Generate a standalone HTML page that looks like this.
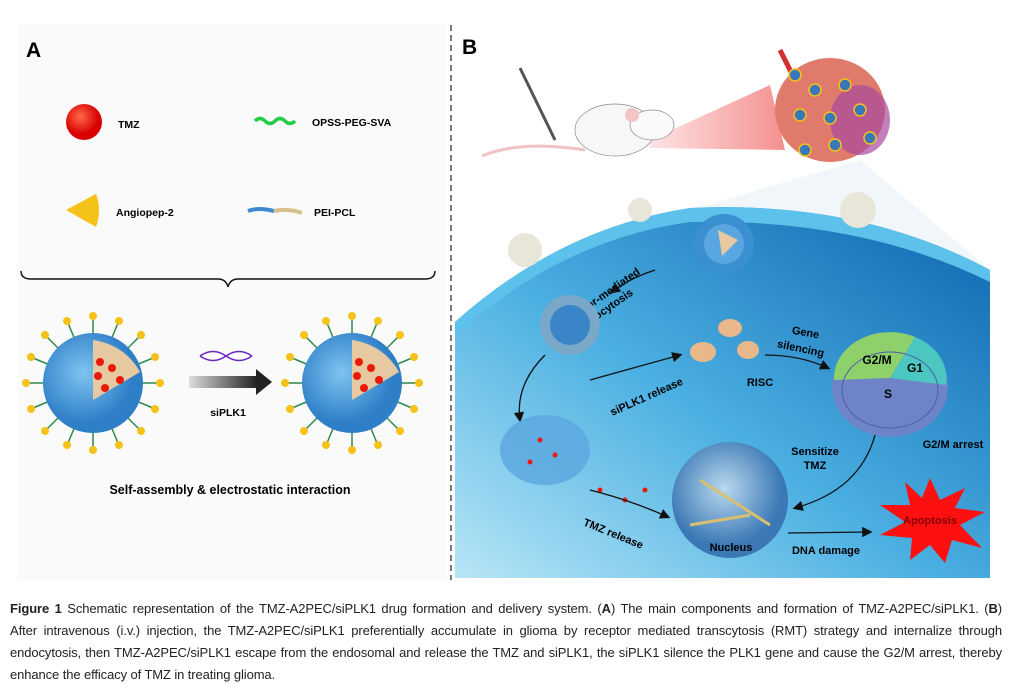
<!DOCTYPE html>
<html><head><meta charset="utf-8"><style>
body{margin:0;background:#fff;width:1013px;height:694px;overflow:hidden;font-family:"Liberation Sans",sans-serif}
.cap{position:absolute;left:10px;top:598px;width:992px;font-size:13px;line-height:22px;color:#222;letter-spacing:-0.1px}
.cap div{text-align:justify;text-align-last:justify;white-space:nowrap}
.cap div.l{text-align-last:left}
</style></head><body>
<svg width="1013" height="694" style="position:absolute;left:0;top:0" font-family="Liberation Sans,sans-serif">
<defs>
<radialGradient id="red" cx="40%" cy="35%"><stop offset="0" stop-color="#ff6a4a"/><stop offset="1" stop-color="#d80000"/></radialGradient>
<radialGradient id="sph" cx="40%" cy="40%"><stop offset="0" stop-color="#7ec4f0"/><stop offset="1" stop-color="#2f7fc8"/></radialGradient>
<linearGradient id="cell" x1="0" y1="1" x2="1" y2="0"><stop offset="0" stop-color="#b8e6f6"/><stop offset="0.45" stop-color="#4bb0e2"/><stop offset="1" stop-color="#0d63ad"/></linearGradient>
<linearGradient id="arr" x1="0" x2="1"><stop offset="0" stop-color="#ddd"/><stop offset="1" stop-color="#222"/></linearGradient>
<linearGradient id="beam" x1="0" x2="1"><stop offset="0" stop-color="#ffd8d8"/><stop offset="1" stop-color="#f06060"/></linearGradient>
<radialGradient id="nuc" cx="45%" cy="40%"><stop offset="0" stop-color="#b9d9ee"/><stop offset="1" stop-color="#3b78b5"/></radialGradient>
<marker id="ah" markerWidth="8" markerHeight="8" refX="6" refY="4" orient="auto"><path d="M0,0 L8,4 L0,8z" fill="#111"/></marker>
</defs>
<rect x="18" y="25" width="428" height="555" fill="#fafafa"/>
<line x1="451" y1="25" x2="451" y2="580" stroke="#333" stroke-width="1.3" stroke-dasharray="6,4"/>
<text x="26" y="57" font-size="21" font-weight="bold">A</text>
<circle cx="84" cy="122" r="18" fill="url(#red)"/>
<text x="118" y="128" font-size="10.5" font-weight="bold">TMZ</text>
<path d="M255,121 q5,-5 10,0 t10,0 t10,0 t10,0" stroke="#22cc44" stroke-width="3.5" fill="none"/>
<text x="312" y="126" font-size="10.5" font-weight="bold">OPSS-PEG-SVA</text>
<path d="M96,194 L66,210 L96,227 Q102,210 96,194z" fill="#f5c21a"/>
<text x="116" y="216" font-size="10.5" font-weight="bold">Angiopep-2</text>
<path d="M248,211 q10,-4 26,0" stroke="#3d8ad4" stroke-width="4" fill="none"/><path d="M274,211 q14,-3 28,2" stroke="#d8c08a" stroke-width="4" fill="none"/>
<text x="314" y="216" font-size="10.5" font-weight="bold">PEI-PCL</text>
<path d="M21,271 q0,8 10,8 L218,279 q8,0 10,8 q2,-8 10,-8 L425,279 q10,0 10,-8" stroke="#111" stroke-width="1.4" fill="none"/>
<g id="np">
<g stroke="#2a8a4a" stroke-width="1.5">
<line x1="93" y1="383" x2="93" y2="318"/><line x1="93" y1="383" x2="93" y2="448"/><line x1="93" y1="383" x2="28" y2="383"/><line x1="93" y1="383" x2="158" y2="383"/>
<line x1="93" y1="383" x2="47" y2="337"/><line x1="93" y1="383" x2="139" y2="429"/><line x1="93" y1="383" x2="139" y2="337"/><line x1="93" y1="383" x2="47" y2="429"/>
<line x1="93" y1="383" x2="68" y2="323"/><line x1="93" y1="383" x2="118" y2="443"/><line x1="93" y1="383" x2="153" y2="358"/><line x1="93" y1="383" x2="33" y2="408"/>
<line x1="93" y1="383" x2="118" y2="323"/><line x1="93" y1="383" x2="68" y2="443"/><line x1="93" y1="383" x2="153" y2="408"/><line x1="93" y1="383" x2="33" y2="358"/>
</g>
<g fill="#f5c21a">
<circle cx="93" cy="316" r="4"/><circle cx="93" cy="450" r="4"/><circle cx="26" cy="383" r="4"/><circle cx="160" cy="383" r="4"/>
<circle cx="45" cy="335" r="4"/><circle cx="141" cy="431" r="4"/><circle cx="141" cy="335" r="4"/><circle cx="45" cy="431" r="4"/>
<circle cx="67" cy="321" r="4"/><circle cx="119" cy="445" r="4"/><circle cx="155" cy="357" r="4"/><circle cx="31" cy="409" r="4"/>
<circle cx="119" cy="321" r="4"/><circle cx="67" cy="445" r="4"/><circle cx="155" cy="409" r="4"/><circle cx="31" cy="357" r="4"/>
</g>
<circle cx="93" cy="383" r="50" fill="url(#sph)"/>
<path d="M93,340 Q125,345 140,372 L93,400 z" fill="#e6c9a0"/>
<g fill="#e81a0a"><circle cx="100" cy="362" r="4"/><circle cx="112" cy="368" r="4"/><circle cx="98" cy="376" r="4"/><circle cx="120" cy="380" r="4"/><circle cx="105" cy="388" r="4"/></g>
</g>
<use href="#np" x="259"/>
<path d="M200,356 q13,-9 26,0 t26,0 M200,356 q13,9 26,0 t26,0" stroke="#6a2ac0" stroke-width="1.5" fill="none"/>
<rect x="189" y="376" width="68" height="12" fill="url(#arr)"/><path d="M256,369 L272,382 L256,395z" fill="#222"/>
<text x="228" y="416" font-size="10.5" font-weight="bold" text-anchor="middle">siPLK1</text>
<text x="230" y="494" font-size="12.5" font-weight="bold" text-anchor="middle">Self-assembly &amp; electrostatic interaction</text>

<text x="462" y="54" font-size="21" font-weight="bold">B</text>
<path d="M650,140 L770,85 L785,150 L650,148z" fill="url(#beam)" opacity="0.7"/>
<path d="M585,150 Q520,140 482,156" stroke="#f0c4c4" stroke-width="3" fill="none"/>
<ellipse cx="615" cy="130" rx="40" ry="26" fill="#f7f7f7" stroke="#888" stroke-width="0.7"/>
<ellipse cx="652" cy="125" rx="22" ry="15" fill="#fafafa" stroke="#888" stroke-width="0.7"/>
<circle cx="632" cy="115" r="7" fill="#f2c4c4"/>
<line x1="520" y1="68" x2="555" y2="140" stroke="#555" stroke-width="3"/>
<path d="M780,50 L800,90" stroke="#d03030" stroke-width="5"/>
<ellipse cx="830" cy="110" rx="55" ry="52" fill="#e07a6a"/>
<ellipse cx="860" cy="120" rx="30" ry="35" fill="#a84aa0" opacity="0.7"/>
<g fill="#3a78b8" stroke="#f5c21a" stroke-width="1.5"><circle cx="795" cy="75" r="6"/><circle cx="815" cy="90" r="6"/><circle cx="845" cy="85" r="6"/><circle cx="800" cy="115" r="6"/><circle cx="830" cy="118" r="6"/><circle cx="860" cy="110" r="6"/><circle cx="805" cy="150" r="6"/><circle cx="835" cy="145" r="6"/><circle cx="870" cy="138" r="6"/></g>
<path d="M690,210 L860,160 L990,270 L990,300z" fill="#eef4fa" opacity="0.8"/>
<path d="M455,322 Q560,228 690,208 Q860,200 990,270 L990,578 L455,578z" fill="url(#cell)"/>
<path d="M455,322 Q560,228 690,208 Q860,200 990,270 L990,282 Q860,218 690,222 Q560,240 455,336z" fill="#5cc2ec"/>
<g fill="#e8e6d8"><circle cx="525" cy="250" r="17"/><circle cx="640" cy="210" r="12"/><circle cx="858" cy="210" r="18"/></g>
<circle cx="724" cy="244" r="30" fill="#3a90d0"/><circle cx="724" cy="244" r="20" fill="#5aa6e0"/>
<path d="M718,230 L738,240 L722,256z" fill="#e6c9a0"/>
<text transform="translate(600,302) rotate(-35)" font-size="11" font-weight="bold" text-anchor="middle"><tspan x="0" y="0">Receptor-mediated</tspan><tspan x="0" y="13">endocytosis</tspan></text>
<path d="M655,270 Q630,278 612,292" stroke="#111" stroke-width="1.3" fill="none" marker-end="url(#ah)"/>
<circle cx="570" cy="325" r="30" fill="#7aa8c8"/><circle cx="570" cy="325" r="20" fill="#3a84c8"/>
<path d="M545,355 Q515,385 520,420" stroke="#111" stroke-width="1.3" fill="none" marker-end="url(#ah)"/>
<ellipse cx="545" cy="450" rx="45" ry="35" fill="#5aa6e0" opacity="0.8"/>
<g fill="#e81a0a"><circle cx="540" cy="440" r="2.5"/><circle cx="555" cy="455" r="2.5"/><circle cx="530" cy="462" r="2.5"/><circle cx="600" cy="490" r="2.5"/><circle cx="625" cy="500" r="2.5"/><circle cx="645" cy="490" r="2.5"/></g>
<path d="M590,380 L680,355" stroke="#111" stroke-width="1.3" fill="none" marker-end="url(#ah)"/>
<text transform="translate(648,400) rotate(-24)" font-size="11" font-weight="bold" text-anchor="middle">siPLK1 release</text>
<g fill="#e8b88a"><ellipse cx="730" cy="328" rx="12" ry="9"/><ellipse cx="703" cy="352" rx="13" ry="10"/><ellipse cx="748" cy="350" rx="11" ry="9"/></g>
<text x="760" y="386" font-size="11" font-weight="bold" text-anchor="middle">RISC</text>
<text x="805" y="336" font-size="11" font-weight="bold" text-anchor="middle" transform="rotate(10 805 336)">Gene</text>
<text x="800" y="352" font-size="11" font-weight="bold" text-anchor="middle" transform="rotate(12 800 352)">silencing</text>
<path d="M765,355 Q800,355 828,368" stroke="#111" stroke-width="1.3" fill="none" marker-end="url(#ah)"/>
<ellipse cx="890" cy="387" rx="58" ry="50" fill="#6f84c8"/>
<path d="M834,380 A56,46 0 0 1 915,337 L890,378z" fill="#8ed06a"/>
<path d="M915,337 A56,46 0 0 1 946,385 L890,378z" fill="#4cc6c0"/>
<ellipse cx="890" cy="390" rx="48" ry="38" fill="none" stroke="#4a5ea8" stroke-width="1"/>
<text x="877" y="364" font-size="12" font-weight="bold" text-anchor="middle">G2/M</text>
<text x="915" y="372" font-size="12" font-weight="bold" text-anchor="middle">G1</text>
<text x="888" y="398" font-size="12" font-weight="bold" text-anchor="middle">S</text>
<text x="953" y="448" font-size="11" font-weight="bold" text-anchor="middle">G2/M arrest</text>
<text x="815" y="455" font-size="11" font-weight="bold" text-anchor="middle">Sensitize</text>
<text x="815" y="469" font-size="11" font-weight="bold" text-anchor="middle">TMZ</text>
<path d="M875,435 Q860,490 795,508" stroke="#111" stroke-width="1.3" fill="none" marker-end="url(#ah)"/>
<circle cx="730" cy="500" r="58" fill="url(#nuc)"/>
<path d="M700,480 L770,525 M690,525 L750,515" stroke="#d8c070" stroke-width="3"/>
<text x="731" y="551" font-size="11" font-weight="bold" text-anchor="middle">Nucleus</text>
<path d="M590,490 Q630,500 668,517" stroke="#111" stroke-width="1.3" fill="none" marker-end="url(#ah)"/>
<text transform="translate(612,537) rotate(22)" font-size="11" font-weight="bold" text-anchor="middle">TMZ release</text>
<path d="M788,533 L870,532" stroke="#111" stroke-width="1.3" fill="none" marker-end="url(#ah)"/>
<text x="826" y="554" font-size="11" font-weight="bold" text-anchor="middle">DNA damage</text>
<path d="M930,478 L940,500 L965,488 L955,508 L985,512 L960,525 L982,548 L952,540 L945,563 L930,545 L910,560 L912,538 L880,535 L905,522 L880,505 L910,505 L905,482 L922,498z" fill="#ff1010"/>
<text x="930" y="524" font-size="11" font-weight="bold" text-anchor="middle" fill="#800">Apoptosis</text>
</svg>
<div class="cap">
<div><b>Figure 1</b> Schematic representation of the TMZ-A2PEC/siPLK1 drug formation and delivery system. (<b>A</b>) The main components and formation of TMZ-A2PEC/siPLK1. (<b>B</b>)</div>
<div>After intravenous (i.v.) injection, the TMZ-A2PEC/siPLK1 preferentially accumulate in glioma by receptor mediated transcytosis (RMT) strategy and internalize through</div>
<div>endocytosis, then TMZ-A2PEC/siPLK1 escape from the endosomal and release the TMZ and siPLK1, the siPLK1 silence the PLK1 gene and cause the G2/M arrest, thereby</div>
<div class="l">enhance the efficacy of TMZ in treating glioma.</div>
</div>
</body></html>
